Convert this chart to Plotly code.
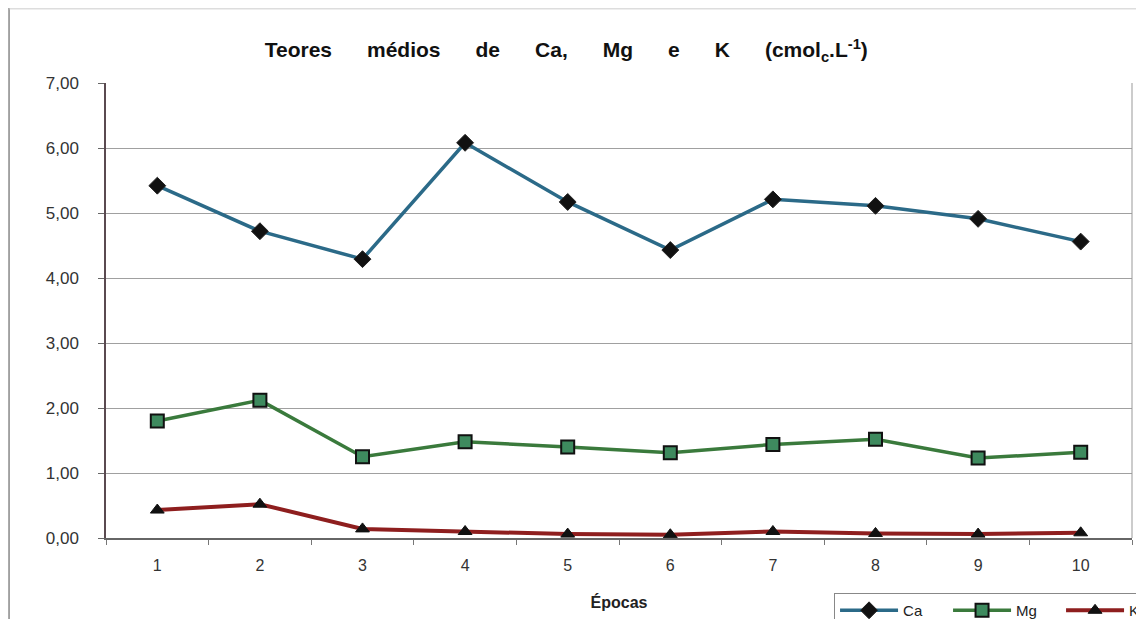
import plotly.graph_objects as go

epocas = ["1", "2", "3", "4", "5", "6", "7", "8", "9", "10"]
ca = [5.42, 4.72, 4.29, 6.08, 5.17, 4.43, 5.21, 5.11, 4.91, 4.56]
mg = [1.80, 2.12, 1.25, 1.48, 1.40, 1.31, 1.44, 1.52, 1.23, 1.32]
k = [0.43, 0.52, 0.14, 0.10, 0.06, 0.05, 0.10, 0.07, 0.06, 0.08]
y_ticks = [0, 1, 2, 3, 4, 5, 6, 7]

FONT = "Liberation Sans, Arial, sans-serif"

fig = go.Figure()
fig.add_trace(go.Scatter(
    x=epocas, y=ca, name="Ca", mode="lines+markers",
    line=dict(color="#2B6A88", width=3.5),
    marker=dict(symbol="diamond", size=13, color="#111111",
                line=dict(color="#222222", width=1)),
))
fig.add_trace(go.Scatter(
    x=epocas, y=mg, name="Mg", mode="lines+markers",
    line=dict(color="#3A7A3C", width=3.5),
    marker=dict(symbol="square", size=13, color="#3E8A5E",
                line=dict(color="#111111", width=2)),
))
fig.add_trace(go.Scatter(
    x=epocas, y=k, name="K", mode="lines+markers",
    line=dict(color="#8E1E1E", width=4),
    marker=dict(symbol="triangle-up", size=12, color="#111111",
                line=dict(color="#111111", width=1)),
))

SP = "      "
title_text = "<b>" + SP.join(["Teores", "médios", "de", "Ca,", "Mg", "e", "K",
                              "(cmol<sub>c</sub>.L<sup>-1</sup>)"]) + "</b>"

fig.update_layout(
    width=1144, height=619,
    margin=dict(l=98, r=20, t=75, b=89, autoexpand=False),
    paper_bgcolor="white", plot_bgcolor="white",
    separators=",.",
    font=dict(family=FONT, size=16, color="#333333"),
    title=dict(
        text=title_text,
        x=0.488, xanchor="center", y=0.932, yanchor="middle",
        font=dict(family=FONT, size=21, color="#111111"),
    ),
    xaxis=dict(
        type="category", categoryorder="array", categoryarray=epocas,
        range=[-0.5, len(epocas) - 0.5], autorange=False,
        tickson="boundaries", ticks="outside", ticklen=5, tickcolor="#777777",
        showgrid=False, showline=True, linecolor="#666666", linewidth=1.5,
        ticklabelstandoff=12, automargin=False,
        tickfont=dict(family=FONT, size=16, color="#333333"),
        title=dict(text="<b>Épocas</b>", standoff=24,
                   font=dict(family=FONT, size=16, color="#222222")),
        zeroline=False,
    ),
    yaxis=dict(
        range=[0, 7], tickvals=y_ticks, tickformat=".2f",
        ticks="outside", ticklen=6, tickcolor="#666666",
        showgrid=True, gridcolor="#A0A0A0", gridwidth=1,
        showline=True, linecolor="#5A4A50", linewidth=1.5,
        mirror=False, zeroline=False, automargin=False,
        ticklabelstandoff=16,
        tickfont=dict(family=FONT, size=17, color="#333333"),
    ),
    legend=dict(
        orientation="h", x=0.7096, xanchor="left", y=-0.121, yanchor="top",
        bordercolor="#888888", borderwidth=1, bgcolor="white",
        font=dict(family=FONT, size=15, color="#222222"),
        itemwidth=58, entrywidth=40, entrywidthmode="pixels",
        traceorder="normal",
    ),
    showlegend=True,
)

# right border of the plot area
fig.add_shape(type="line", xref="paper", yref="paper", x0=1, x1=1, y0=0, y1=1,
              line=dict(color="#999999", width=1))
# outer chart frame (left and top edges)
fig.add_shape(type="line", xref="paper", yref="paper",
              x0=-0.0945, x1=-0.0945, y0=-0.2, y1=1.17,
              line=dict(color="#888888", width=1.5))
fig.add_shape(type="line", xref="paper", yref="paper",
              x0=-0.0945, x1=1.03, y0=1.163, y1=1.163,
              line=dict(color="#CCCCCC", width=1))

fig.write_html("out.html")
